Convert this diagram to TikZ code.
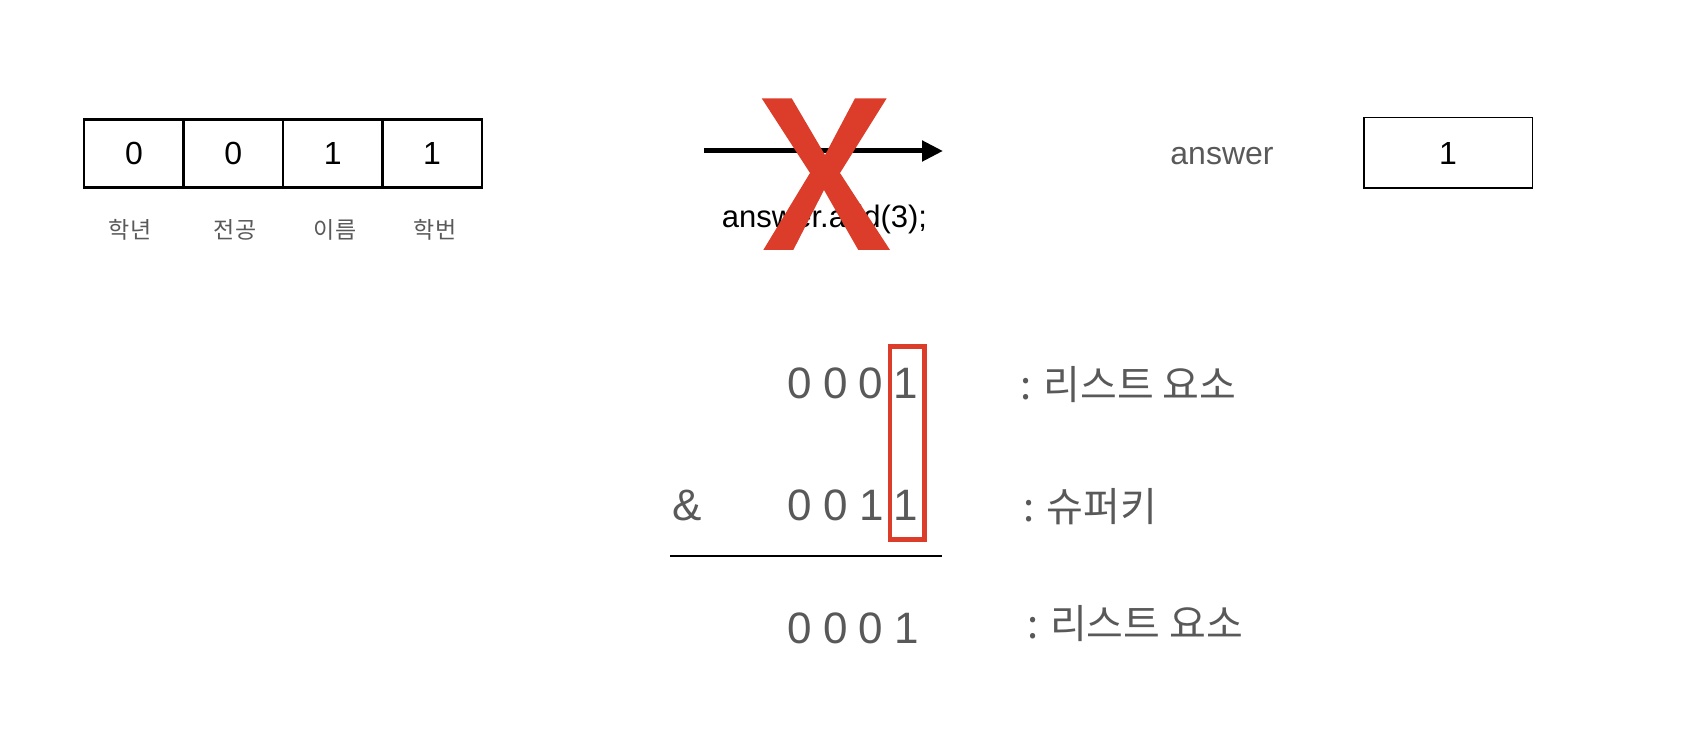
\documentclass[tikz,border=0pt]{standalone}
\usepackage{fontspec}
\setmainfont{Liberation Sans}
\newfontfamily\kr{Noto Sans CJK KR}
\usetikzlibrary{arrows.meta}
\definecolor{txtgray}{RGB}{89,89,89}
\definecolor{xred}{RGB}{220,61,42}
\begin{document}
\begin{tikzpicture}[x=0.5pt,y=-0.5pt,
  cell/.style={draw, line width=1.15pt, minimum width=49.7pt, minimum height=33.9pt, inner sep=0pt, font=\fontsize{16}{18}\selectfont},
  lbl/.style={font=\kr\fontsize{11.5}{13}\selectfont, text=txtgray, inner sep=0pt},
  big/.style={font=\fontsize{22}{24}\selectfont, text=txtgray, inner sep=0pt, anchor=base},
  klbl/.style={font=\kr\fontsize{20}{22}\selectfont, text=txtgray, inner sep=0pt, anchor=base west},
  plain/.style={font=\fontsize{15.5}{18}\selectfont, inner sep=0pt, anchor=base},
]
\useasboundingbox (0,0) rectangle (1688,742);
% array
\node[cell] (c1) at (133.9,153.5) {0};
\node[cell] (c2) at (233.3,153.5) {0};
\node[cell] (c3) at (332.7,153.5) {1};
\node[cell] (c4) at (432.1,153.5) {1};
\node[lbl] (l1) at (130,230) {학년};
\node[lbl] (l2) at (235,230) {전공};
\node[lbl] (l3) at (335,230) {이름};
\node[lbl] (l4) at (435,230) {학번};
% arrow with cross
\coordinate (arrS) at (704,151);
\coordinate (arrE) at (943,151);
\draw[line width=2.5pt, -{Triangle[length=10.5pt, width=10pt]}] (arrS) -- (arrE);
\node[plain] (code) at (824.5,228) {answer.add(3);};
\fill[xred] (761.7,98.3) -- (791.7,98.3) -- (825,155) -- (855,98.3) -- (886.7,98.3)
  -- (840,173) -- (890,250) -- (858.3,250) -- (824,190) -- (793.3,250) -- (763.3,250)
  -- (810,173) -- cycle;
% answer
\node[plain, text=txtgray, font=\fontsize{16}{18}\selectfont] (ans) at (1222,165) {answer};
\node[draw, line width=0.75pt, minimum width=84.25pt, minimum height=35.25pt, inner sep=0pt, font=\fontsize{16}{18}\selectfont] (ansbox) at (1448,153) {1};
% bitwise and
\node[big] (r1a) at (799.5,398.3) {0};
\node[big] (r1b) at (835.8,398.3) {0};
\node[big] (r1c) at (870.5,398.3) {0};
\node[big] (r1d) at (906,398.3) {1};
\node[big] (amp) at (687,521) {\&};
\node[big] (r2a) at (799.5,521) {0};
\node[big] (r2b) at (835.8,521) {0};
\node[big] (r2c) at (871.6,521) {1};
\node[big] (r2d) at (906,521) {1};
\node[big] (r3a) at (799.5,643.3) {0};
\node[big] (r3b) at (835.8,643.3) {0};
\node[big] (r3c) at (870.5,643.3) {0};
\node[big] (r3d) at (906.5,643.3) {1};
\node[draw=xred, line width=2.25pt, minimum width=17.25pt, minimum height=96.45pt, inner sep=0pt] (hl) at (907.2,443) {};
\coordinate (ruleS) at (670,555.7);
\coordinate (ruleE) at (941.7,555.7);
\draw[line width=1pt] (ruleS) -- (ruleE);
\node[klbl] (k1) at (1020,399.5) {: 리스트 요소};
\node[klbl] (k2) at (1023.3,522) {: 슈퍼키};
\node[klbl] (k3) at (1026.7,639) {: 리스트 요소};
\end{tikzpicture}
\end{document}
